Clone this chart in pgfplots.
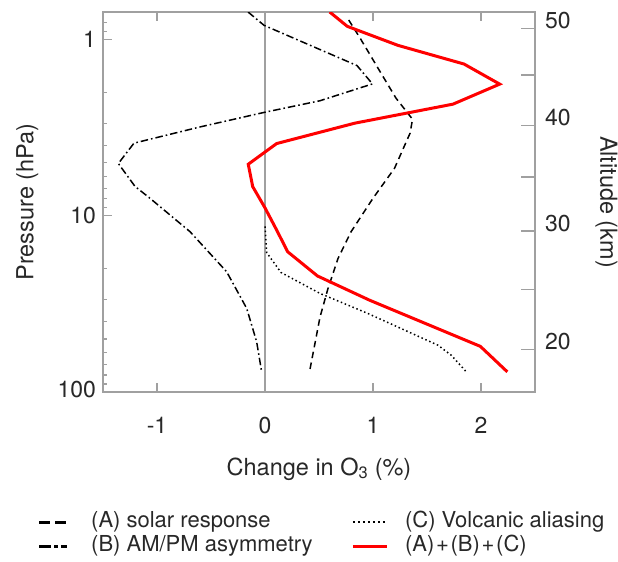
\documentclass[border=0pt]{standalone}
\usepackage{fontspec}
\setmainfont{TeX Gyre Heros}
\usepackage{pgfplots}
\pgfplotsset{compat=1.18}
\definecolor{axgray}{RGB}{160,160,160}
\definecolor{txt}{RGB}{40,40,40}
\begin{document}
\begin{tikzpicture}[font=\fontsize{23bp}{27bp}\selectfont]
\path[use as bounding box] (-103bp,-170bp) rectangle (515bp,392bp);
\begin{axis}[
  at={(0,0)}, anchor=south west, scale only axis,
  width=432bp, height=380bp,
  xmin=-1.5, xmax=2.5,
  ymode=log, y dir=reverse, ymin=0.7, ymax=100,
  xtick={-1,0,1,2}, xticklabels={-1,0,1,2},
  ytick={1,10,100}, yticklabels={1,10,\raisebox{6bp}{100}},
  minor ytick={0.8,0.9,2,3,4,5,6,7,8,9,20,30,40,50,60,70,80,90},
  xtick pos=both, ytick pos=left,
  tick align=inside,
  major tick length=9bp, minor tick length=4.5bp,
  axis line style={axgray, line width=1.2bp},
  tick style={axgray, line width=1.2bp},
  tick label style={text=txt, font=\fontsize{23bp}{27bp}\selectfont},
  xticklabel style={yshift=-22bp},
  yticklabel style={xshift=-3.5bp},
  xlabel={Change in O\textsubscript{3} (\%)},
  xlabel style={at={(axis description cs:0.5,0)}, anchor=base, yshift=-83bp, text=txt, font=\fontsize{23.5bp}{27bp}\selectfont},
  ylabel={Pressure (hPa)},
  ylabel style={at={(axis description cs:-0.175,0.5)}, anchor=center, text=txt, font=\fontsize{23.5bp}{27bp}\selectfont},
  legend style={
    at={(axis description cs:-0.1505,-0.311)}, anchor=north west,
    draw=none, fill=none, inner sep=0pt, outer sep=0pt,
    legend columns=2,
    font=\fontsize{22bp}{26bp}\selectfont, text=txt,
    nodes={inner sep=1.5bp, text height=16bp, text depth=5bp},
    /tikz/column 1/.style={column sep=21bp},
    /tikz/column 2/.style={column sep=37bp},
    /tikz/column 3/.style={column sep=15bp},
  },
  legend cell align=left,
]
\addlegendimage{legend image code/.code={\draw[black, line width=2.7bp, dash pattern=on 11bp off 5bp] (0bp,0bp) -- (28bp,0bp);}}
\addlegendentry{(A) solar response}
\addlegendimage{legend image code/.code={\draw[black, line width=1.8bp, dash pattern=on 1.8bp off 3.2bp] (0bp,0bp) -- (34bp,0bp);}}
\addlegendentry{(C) Volcanic aliasing}
\addlegendimage{legend image code/.code={\draw[black, line width=2.7bp, dash pattern=on 11.5bp off 3.3bp on 3.4bp off 3.3bp] (0bp,0bp) -- (28bp,0bp);}}
\addlegendentry{(B) AM/PM asymmetry}
\addlegendimage{legend image code/.code={\draw[red, line width=3.3bp] (0bp,0bp) -- (34bp,0bp);}}
\addlegendentry{(A)\kern1.7bp+\kern1.7bp(B)\kern1.7bp+\kern1.7bp(C)}

% zero line
\addplot[axgray, line width=1.2bp, forget plot] coordinates {(0,0.7) (0,100)};

% (A) solar response
\addplot[black, line width=1.5bp, dash pattern=on 6.5bp off 4.5bp, forget plot] coordinates {
(0.775,0.777) (0.880,0.983) (1.046,1.456) (1.213,2.156) (1.366,2.84) (1.343,3.41)
(1.199,5.39) (1.000,7.97) (0.796,12.36) (0.676,17.5) (0.583,25.9) (0.509,37.7) (0.412,76.9)};

% (B) AM/PM asymmetry
\addplot[black, line width=1.5bp, dash pattern=on 7.5bp off 3bp on 1.6bp off 3bp, forget plot] coordinates {
(-0.157,0.70) (-0.009,0.833) (0.852,1.409) (0.995,1.79) (0.509,2.23) (0.0,2.59)
(-0.602,3.14) (-1.213,3.88) (-1.358,5.06) (-1.204,6.82) (-1.065,7.97) (-0.694,12.33)
(-0.355,20.8) (-0.169,33.6) (-0.077,52.0) (-0.031,76.9)};

% (C) Volcanic aliasing
\addplot[black, line width=1.5bp, dash pattern=on 1.5bp off 2.7bp, forget plot] coordinates {
(0.0,11.5) (0.016,16.2) (0.148,21.0) (0.509,27.6) (0.954,35.9) (1.602,54.3) (1.725,61.9) (1.864,76.9)};

% (A)+(B)+(C)
\addplot[red, line width=3bp, forget plot] coordinates {
(0.599,0.70) (0.762,0.844) (1.231,1.082) (1.843,1.381) (2.173,1.795) (1.741,2.331)
(0.831,2.989) (0.108,3.90) (-0.155,5.11) (-0.114,6.84) (0.0,9.03) (0.108,12.07)
(0.210,16.02) (0.486,21.98) (0.969,30.17) (1.994,55.1) (2.244,76.9)};
\end{axis}

\begin{axis}[
  at={(0,0)}, anchor=south west, scale only axis,
  width=432bp, height=380bp,
  xmin=-1.5, xmax=2.5,
  ymode=log, y dir=reverse, ymin=0.7, ymax=100,
  axis x line=none, axis y line*=right,
  ytick={0.866,3.069,12.23,57.5}, yticklabels={50,40,30,20},
  minor ytick={1.595,6.036,26.12},
  tick align=inside,
  major tick length=14bp, minor tick length=14bp,
  axis line style={axgray, line width=1.2bp},
  tick style={axgray, line width=1.2bp},
  tick label style={text=txt, font=\fontsize{23bp}{27bp}\selectfont},
  yticklabel style={anchor=base west, xshift=6.5bp},
  ylabel={Altitude (km)},
  ylabel style={at={(axis description cs:1.1655,0.5)}, anchor=center, rotate=180, text=txt, font=\fontsize{23.5bp}{27bp}\selectfont},
]
\end{axis}
\end{tikzpicture}
\end{document}
